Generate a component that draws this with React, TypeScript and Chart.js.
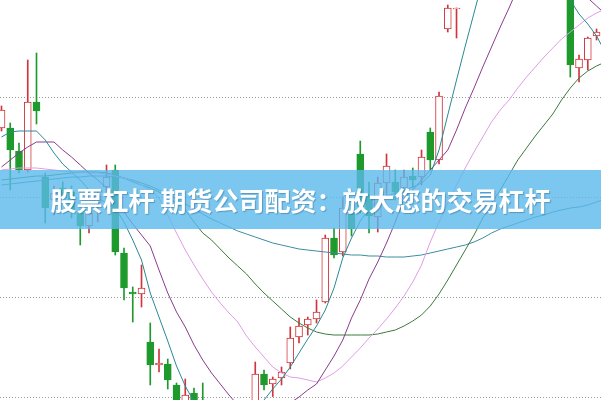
import React, { useEffect, useRef } from "react";
import { Chart, registerables } from "chart.js";

Chart.register(...registerables);

// Candles (price units; gridlines sit at 0, 100, 200, 300)
const opens = [269, 269, 246, 227, 295, 220, 197, 209, 205, 184, 171, 194, 210, 227, 144, 105, 103, 55, 32, 33, 12, -8, 4, -3, -13, -48, -33, -53, -43, -8, 23, 13, 19, 34, 60, 72, 78, 95, 159, 145, 185, 243, 200, 180, 214, 215, 209, 221, 220, 265, 237, 368, 388, 407, 437, 467, 452, 497, 527, 507, 547, 517, 487, 517, 477, 437, 329, 337, 361];
const closes = [287, 247, 227, 295, 286, 189, 204, 201, 185, 171, 184, 201, 220, 145, 109, 103, 109, 32, 34, 17, -13, 2, -23, -33, -43, -28, -58, -33, -18, 23, 12, 18, 25, 59, 71, 78, 85, 159, 142, 189, 168, 190, 181, 214, 231, 205, 220, 217, 240, 237, 301, 389, 389, 437, 467, 452, 497, 527, 507, 547, 517, 487, 517, 477, 437, 332, 338, 359, 365];
const highs = [291, 274, 254, 337, 344, 224, 211, 215, 211, 188, 190, 207, 232, 232, 149, 110, 132, 74, 48, 38, 14, 18, 9, 14, -8, -21, -23, -18, -8, 35, 27, 20, 30, 70, 79, 80, 97, 162, 169, 200, 197, 256, 215, 220, 243, 227, 227, 229, 247, 269, 305, 392, 389, 447, 477, 482, 507, 537, 542, 557, 557, 527, 522, 522, 487, 442, 342, 360, 368];
const lows = [266, 207, 224, 225, 273, 174, 182, 193, 179, 152, 164, 175, 205, 142, 97, 75, 90, 12, 25, 8, -23, -13, -33, -43, -53, -58, -68, -63, -53, -13, 7, 0, 12, 28, 54, 62, 74, 94, 139, 141, 161, 184, 164, 165, 202, 197, 201, 209, 212, 227, 233, 365, 359, 400, 427, 442, 447, 487, 497, 502, 507, 477, 482, 467, 427, 320, 315, 327, 357];

// Moving averages (70 points, the last one sits just past the right edge)
const ma5 = [260, 265, 266, 266, 266, 257, 244, 233, 225, 217, 207, 199, 194, 189, 175, 157, 137, 104, 80, 56, 31, 11, -5, -19, -29, -36, -39, -37, -31, -19, -3, 8, 18, 30, 44, 58, 71, 87, 109, 139, 159, 176, 188, 196, 201, 204, 207, 210, 214, 222, 247, 282, 317, 351, 384, 417, 452, 482, 507, 527, 537, 537, 527, 497, 447, 397, 383, 373, 361, 345];
const ma10 = [230, 237, 244, 250, 255, 255, 255, 247, 240, 232, 224, 217, 209, 197, 185, 173, 162, 151, 127, 104, 85, 70, 52, 37, 24, 13, 2, -8, -17, -23, -25, -21, -15, -6, 0, 7, 13, 27, 41, 57, 79, 97, 118, 135, 154, 175, 199, 207, 217, 227, 237, 247, 267, 289, 309, 330, 350, 370, 389, 409, 427, 442, 452, 452, 445, 432, 415, 399, 391, 383];
const ma20 = [227, 228, 229, 229, 229, 228, 227, 226, 225, 225, 224, 224, 223, 221, 219, 216, 212, 207, 199, 182, 164, 147, 132, 118, 105, 94, 84, 75, 61, 50, 40, 30, 24, 20, 19, 17, 15, 19, 24, 31, 40, 49, 59, 68, 78, 89, 101, 115, 132, 155, 175, 194, 212, 229, 245, 260, 275, 287, 297, 309, 320, 330, 340, 349, 358, 365, 372, 379, 384, 388];
const ma30 = [217, 218, 219, 220, 221, 221, 222, 223, 224, 225, 225, 225, 224, 222, 219, 215, 212, 209, 205, 200, 194, 187, 175, 164, 157, 148, 139, 131, 123, 113, 104, 96, 88, 80, 74, 69, 65, 63, 62, 62, 62, 62, 62, 63, 65, 67, 71, 76, 82, 91, 103, 117, 132, 147, 162, 179, 194, 207, 222, 237, 249, 261, 272, 283, 297, 309, 319, 326, 331, 335];
const ma60 = [212, 213, 214, 215, 216, 217, 218, 219, 220, 220, 221, 221, 221, 220, 219, 217, 214, 211, 207, 203, 198, 193, 188, 183, 178, 174, 170, 166, 163, 160, 157, 154, 152, 150, 148, 147, 146, 145, 144, 143, 142, 142, 141, 141, 140, 140, 140, 141, 142, 144, 146, 148, 150, 152, 155, 159, 164, 168, 171, 174, 177, 180, 182, 185, 187, 189, 190, 192, 195, 198];

const gridValues = [0, 100, 200, 300];
const bannerText = "股票杠杆 期货公司配资：放大您的交易杠杆";

const RED = "#d0353b";
const GREEN = "#1e9a2d";

export default function App() {
  const ref = useRef<HTMLCanvasElement>(null);

  useEffect(() => {
    const up = opens.map((o, i) => closes[i] >= o);
    const line = (d: number[], color: string) => ({
      type: "line" as const,
      data: d.map((v, i) => ({ x: i, y: v })),
      borderColor: color,
      borderWidth: 1,
      pointRadius: 0,
      tension: 0,
      fill: false,
    });
    const chart = new Chart(ref.current as HTMLCanvasElement, {
      type: "bar",
      data: {
        datasets: [
          line(ma5, "#2a8896"),
          line(ma10, "#8c3a8e"),
          line(ma20, "#e19ce6"),
          line(ma30, "#3b7a3e"),
          line(ma60, "#3d8ca2"),
          {
            type: "bar",
            data: opens.map((o, i) => ({ x: i, y: [o, closes[i]] })),
            backgroundColor: up.map((u) => (u ? "#ffffff" : GREEN)),
            borderColor: up.map((u) => (u ? RED : GREEN)),
            borderWidth: 1,
            borderSkipped: false,
            barThickness: 7,
            grouped: false,
          } as any,
          {
            type: "bar",
            data: lows.map((l, i) => ({ x: i, y: [l, highs[i]] })),
            backgroundColor: up.map((u) => (u ? RED : GREEN)),
            borderWidth: 0,
            barThickness: 1,
            grouped: false,
          } as any,
        ],
      },
      options: {
        responsive: false,
        animation: false,
        devicePixelRatio: 1,
        events: [],
        layout: { padding: 0 },
        plugins: { legend: { display: false }, tooltip: { enabled: false } },
        scales: {
          x: { type: "linear", min: -0.171, max: 68.51, offset: false, display: false },
          y: {
            type: "linear",
            min: -3,
            max: 397,
            ticks: { display: false },
            grid: { color: "#9a9a9a", lineWidth: 1, drawTicks: false },
            border: { display: false, dash: [1, 2] },
            afterBuildTicks: (axis: any) => {
              axis.ticks = gridValues.map((v) => ({ value: v }));
            },
          },
        },
      } as any,
    });
    return () => chart.destroy();
  }, []);

  return (
    <div style={{ position: "relative", width: 601, height: 400, overflow: "hidden", background: "#fff" }}>
      <style>{"body{margin:0}"}</style>
      <canvas ref={ref} width={601} height={400} style={{ display: "block" }} />
      <div
        style={{
          position: "absolute",
          left: 0,
          top: 170,
          width: 601,
          height: 59,
          background: "rgba(90,185,235,0.8)",
          color: "#ffffff",
          fontFamily: '"Noto Sans CJK SC", "Noto Sans", sans-serif',
          fontWeight: 700,
          fontSize: 26,
          lineHeight: "59px",
          textAlign: "center",
          whiteSpace: "nowrap",
          textShadow: "1px 1px 1px rgba(0,40,80,0.3)",
        }}
      >
        {bannerText}
      </div>
    </div>
  );
}
